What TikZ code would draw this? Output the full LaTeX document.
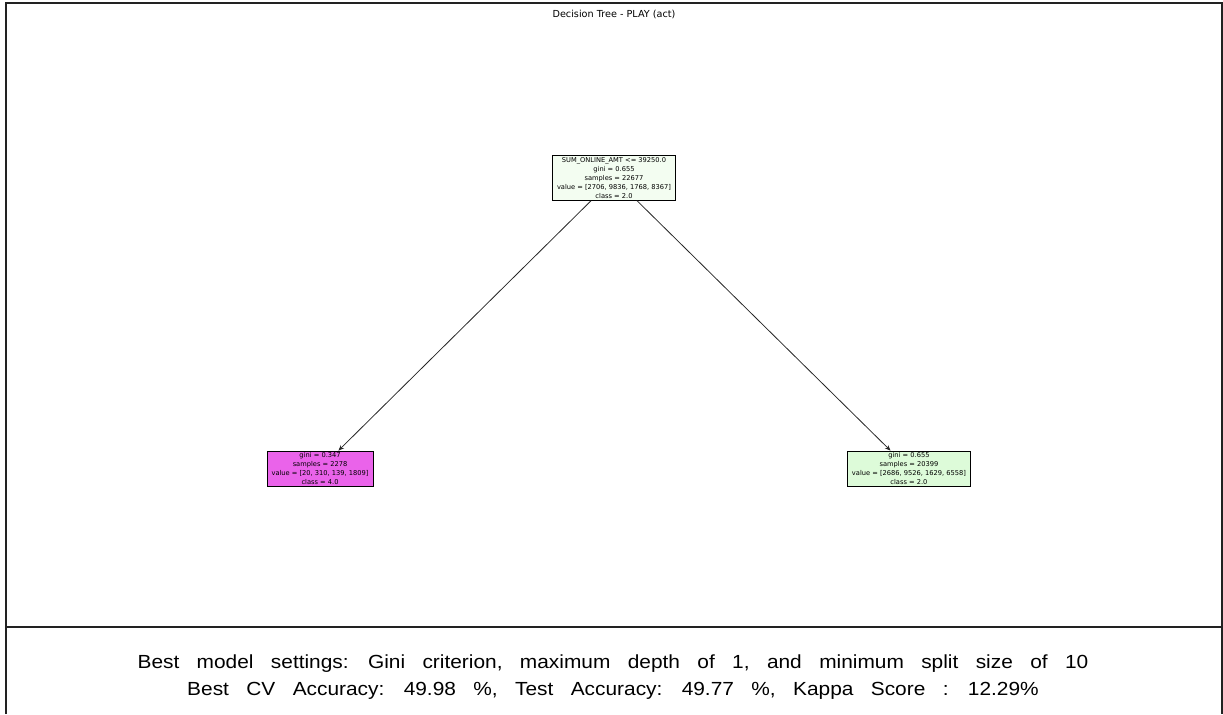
\documentclass[tikz,border=0pt]{standalone}
\usepackage{fontspec}
\usepackage{xcolor}
\usepackage{tikz}
\usetikzlibrary{arrows.meta, positioning}
\newfontfamily\treefont{DejaVu Sans}
\newfontfamily\notefont[WordSpace=3.0, FakeStretch=1.1]{Liberation Sans}
\definecolor{rootgreen}{RGB}{243, 253, 241}
\definecolor{leafmagenta}{RGB}{234, 99, 234}
\definecolor{leafgreen}{RGB}{221, 251, 217}
\definecolor{framegray}{RGB}{34, 34, 34}

\begin{document}
\begin{tikzpicture}[
    x=0.02cm, y=-0.02cm,
    every node/.style={font=\treefont},
    split/.style={rectangle, draw=black, line width=0.5pt, align=center, inner xsep=2.5pt, inner ysep=1pt, font=\treefont\fontsize{3.8}{5.1}\selectfont},
    note/.style={align=center, font=\notefont\fontsize{10.8}{15.3}\selectfont},
    edge/.style={-{Stealth[length=3.2pt, width=2.6pt]}, line width=0.45pt, draw=black!85}
]
\useasboundingbox (0,0) rectangle (1223,714);

\draw[line width=1pt, framegray] (6,714) -- (6,3) -- (1222,3) -- (1222,714);
\draw[line width=1pt, framegray] (6,627) -- (1222,627);

\node[font=\treefont\fontsize{5.5}{6.6}\selectfont] (title) at (614,14) {Decision Tree - PLAY (act)};

\node[split, fill=rootgreen] (root) at (614,178) {
    SUM\_ONLINE\_AMT <= 39250.0\\
    gini = 0.655\\
    samples = 22677\\
    value = [2706, 9836, 1768, 8367]\\
    class = 2.0
};

\node[split, fill=leafmagenta, below=5cm of root, xshift=-5.88cm] (low) {
    gini = 0.347\\
    samples = 2278\\
    value = [20, 310, 139, 1809]\\
    class = 4.0
};

\node[split, fill=leafgreen, below=5cm of root, xshift=5.9cm] (high) {
    gini = 0.655\\
    samples = 20399\\
    value = [2686, 9526, 1629, 6558]\\
    class = 2.0
};

\draw[edge] (root) -- (low);
\draw[edge] (root) -- (high);

\node[note] (summary) at (613,677) {
    Best model settings: Gini criterion, maximum depth of 1, and minimum split size of 10\\
    Best CV Accuracy: 49.98 \%, Test Accuracy: 49.77 \%, Kappa Score : 12.29\%
};

\end{tikzpicture}
\end{document}
